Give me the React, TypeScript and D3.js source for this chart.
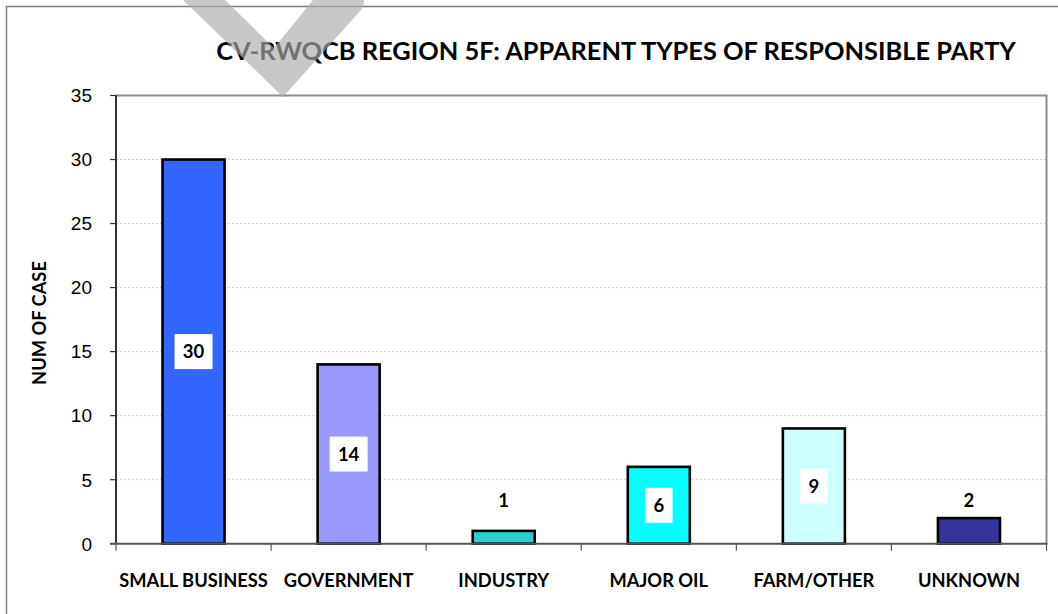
import React from "react";
import * as d3 from "d3";

const categories = ["SMALL BUSINESS", "GOVERNMENT", "INDUSTRY", "MAJOR OIL", "FARM/OTHER", "UNKNOWN"];
const values = [30, 14, 1, 6, 9, 2];
const barColors = ["#3366FF", "#9999FF", "#33CCCC", "#00FFFF", "#CCFFFF", "#333399"];
const yTicks = [0, 5, 10, 15, 20, 25, 30, 35];
const title = "CV-RWQCB REGION 5F: APPARENT TYPES OF RESPONSIBLE PARTY";
const yTitle = "NUM OF CASE";

const W = 1058;
const H = 614;
const plot = { left: 116, right: 1046.5, top: 95.5, bottom: 543.7 };

export default function App() {
  const x = d3.scaleBand<string>().domain(categories).range([plot.left, plot.right]).padding(0);
  const y = d3.scaleLinear().domain([0, 35]).range([plot.bottom, plot.top]);
  const bw = x.bandwidth() * 0.4;
  const boldFont = "Lato, 'Open Sans', sans-serif";

  return (
    <svg width={W} height={H} style={{ position: "absolute", left: 0, top: 0, background: "#fff" }}>
      <rect x={0} y={0} width={W} height={H} fill="#fff" />
      {/* outer chart frame */}
      <path d={`M6.5,${H} L6.5,6.5 L${W},6.5`} fill="none" stroke="#808080" strokeWidth={1.5} />

      {/* title */}
      <text x={616} y={60} textAnchor="middle" fontFamily={boldFont} fontWeight={700} fontSize={25.4} fill="#000">
        {title}
      </text>

      {/* gridlines */}
      {yTicks.filter((t) => t > 0 && t < 35).map((t) => (
        <line key={t} x1={plot.left} x2={plot.right} y1={y(t)} y2={y(t)} stroke="#cfcfcf" strokeWidth={1} strokeDasharray="2,2" />
      ))}

      {/* plot frame: top and right */}
      <path d={`M${plot.left},${y(35)} L${plot.right},${y(35)} L${plot.right},${plot.bottom}`} fill="none" stroke="#8c8c8c" strokeWidth={2} />

      {/* bars */}
      {categories.map((c, i) => {
        const cx = (x(c) as number) + x.bandwidth() / 2;
        return (
          <rect key={c} x={cx - bw / 2} y={y(values[i])} width={bw} height={plot.bottom - y(values[i])}
            fill={barColors[i]} stroke="#000" strokeWidth={2.6} />
        );
      })}

      {/* y axis */}
      <line x1={plot.left} x2={plot.left} y1={plot.top} y2={plot.bottom} stroke="#000" strokeWidth={1.6} />
      {yTicks.map((t) => (
        <g key={t}>
          <line x1={plot.left - 6} x2={plot.left} y1={y(t)} y2={y(t)} stroke="#333" strokeWidth={1.2} />
          <text x={92} y={y(t)} dy="0.36em" textAnchor="end" fontFamily="'Liberation Sans', Arial, sans-serif" fontSize={19} fill="#000">
            {t}
          </text>
        </g>
      ))}

      {/* x axis */}
      <line x1={plot.left - 6} x2={plot.right + 1} y1={plot.bottom} y2={plot.bottom} stroke="#555" strokeWidth={2} />
      {categories.map((c) => (
        <line key={"t" + c} x1={x(c) as number} x2={x(c) as number} y1={plot.bottom} y2={plot.bottom + 7} stroke="#555" strokeWidth={1.2} />
      ))}
      <line x1={plot.right} x2={plot.right} y1={plot.bottom} y2={plot.bottom + 7} stroke="#555" strokeWidth={1.2} />
      {categories.map((c) => (
        <text key={"l" + c} x={(x(c) as number) + x.bandwidth() / 2} y={587} textAnchor="middle"
          fontFamily={boldFont} fontWeight={700} fontSize={18.3} fill="#000">
          {c}
        </text>
      ))}

      {/* y axis title */}
      <text transform={`translate(45.5,323) rotate(-90)`} textAnchor="middle" fontFamily={boldFont} fontWeight={700} fontSize={18.3} fill="#000">
        {yTitle}
      </text>

      {/* data labels */}
      {categories.map((c, i) => {
        const cx = (x(c) as number) + x.bandwidth() / 2;
        const v = values[i];
        const barH = plot.bottom - y(v);
        const inside = barH > 40;
        const cy = inside ? y(v / 2) : plot.bottom - 43;
        const label = String(v);
        const tw = label.length * 10.5;
        const boxW = tw + 17;
        return (
          <g key={"d" + c}>
            {inside && <rect x={cx - boxW / 2} y={cy - 17.5} width={boxW} height={35} fill="#fff" />}
            <text x={cx} y={cy} dy="0.36em" textAnchor="middle" fontFamily={boldFont} fontWeight={700} fontSize={18.5} fill="#000">
              {label}
            </text>
          </g>
        );
      })}

      {/* watermark */}
      <path d="M183,0 L225,0 L274,48 L313,0 L364,0 Q364,6 361,10 L283,97 Z" fill="rgb(171,171,171)" fillOpacity={0.66} />
    </svg>
  );
}
